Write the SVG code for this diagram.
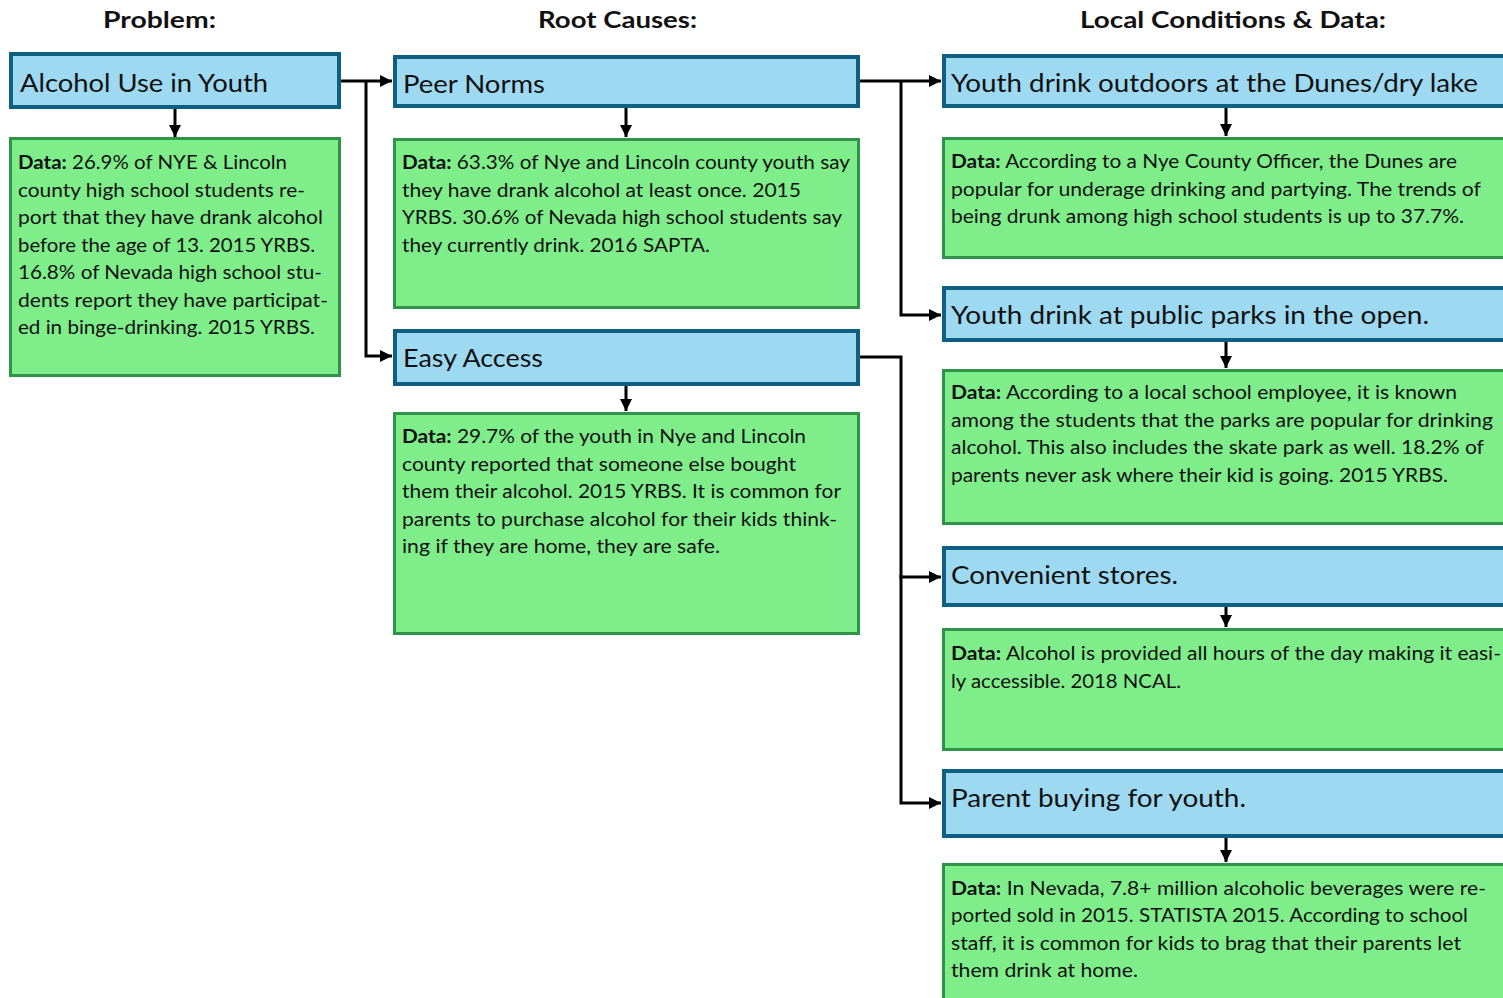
<svg xmlns="http://www.w3.org/2000/svg" width="1503" height="998" viewBox="0 0 1503 998">
<style>
.hdr{font-family:Lato,"Liberation Sans",sans-serif;font-weight:700;font-size:23px;fill:#111}
.ttl{font-family:Lato,"Liberation Sans",sans-serif;font-size:25.5px;fill:#111}
.dat{font-family:Lato,"Liberation Sans",sans-serif;font-size:18.5px;fill:#111}
.dat tspan.b{font-weight:700}
.tbox{fill:#9DD9F1;stroke:#0F6080;stroke-width:4}
.dbox{fill:#7FEE8A;stroke:#309448;stroke-width:3}
.con{fill:none;stroke:#000;stroke-width:3;stroke-linejoin:miter}
</style>
<defs>
<marker id="ah" markerUnits="userSpaceOnUse" markerWidth="12" markerHeight="12" viewBox="0 0 12 12" refX="12" refY="6" orient="auto">
<path d="M0,0 L12,6 L0,12 z" fill="#000"/>
</marker>
</defs>
<rect width="1503" height="998" fill="#fff"/>

<g id="headers">
<text class="hdr" x="103" y="28" textLength="113" lengthAdjust="spacingAndGlyphs">Problem:</text>
<text class="hdr" x="538" y="28" textLength="159" lengthAdjust="spacingAndGlyphs">Root Causes:</text>
<text class="hdr" x="1080" y="28" textLength="306" lengthAdjust="spacingAndGlyphs">Local Conditions &amp; Data:</text>
</g>

<g id="connectors">
<line class="con" x1="175" y1="109" x2="175" y2="137" marker-end="url(#ah)"/>
<line class="con" x1="626" y1="108" x2="626" y2="137" marker-end="url(#ah)"/>
<line class="con" x1="626" y1="386" x2="626" y2="411" marker-end="url(#ah)"/>
<line class="con" x1="1226" y1="108" x2="1226" y2="136" marker-end="url(#ah)"/>
<line class="con" x1="1226" y1="342" x2="1226" y2="368" marker-end="url(#ah)"/>
<line class="con" x1="1226" y1="607" x2="1226" y2="627" marker-end="url(#ah)"/>
<line class="con" x1="1226" y1="838" x2="1226" y2="862" marker-end="url(#ah)"/>
<path class="con" d="M341,81 H392" marker-end="url(#ah)"/>
<path class="con" d="M366,81 V356 H392" marker-end="url(#ah)"/>
<path class="con" d="M860,81 H941" marker-end="url(#ah)"/>
<path class="con" d="M901,81 V315 H941" marker-end="url(#ah)"/>
<path class="con" d="M860,357 H901 V577 H941" marker-end="url(#ah)"/>
<path class="con" d="M901,575 V803 H941" marker-end="url(#ah)"/>
</g>

<g id="n-alcohol">
<rect class="tbox" x="11" y="54" width="328" height="53"/>
<text class="ttl" x="20" y="92" textLength="248" lengthAdjust="spacingAndGlyphs">Alcohol Use in Youth</text>
</g>
<g id="n-alcohol-data">
<rect class="dbox" x="10.5" y="138.5" width="329" height="237"/>
<text class="dat" x="18" y="169" textLength="269" lengthAdjust="spacingAndGlyphs"><tspan class="b">Data:</tspan> 26.9% of NYE &amp; Lincoln</text>
<text class="dat" x="18" y="196.5" textLength="287" lengthAdjust="spacingAndGlyphs">county high school students re-</text>
<text class="dat" x="18" y="224" textLength="305" lengthAdjust="spacingAndGlyphs">port that they have drank alcohol</text>
<text class="dat" x="18" y="251.5" textLength="297" lengthAdjust="spacingAndGlyphs">before the age of 13. 2015 YRBS.</text>
<text class="dat" x="18" y="279" textLength="304" lengthAdjust="spacingAndGlyphs">16.8% of Nevada high school stu-</text>
<text class="dat" x="18" y="306.5" textLength="310" lengthAdjust="spacingAndGlyphs">dents report they have participat-</text>
<text class="dat" x="18" y="334" textLength="297" lengthAdjust="spacingAndGlyphs">ed in binge-drinking. 2015 YRBS.</text>
</g>

<g id="n-peer">
<rect class="tbox" x="395" y="57" width="463" height="49"/>
<text class="ttl" x="403" y="93" textLength="142" lengthAdjust="spacingAndGlyphs">Peer Norms</text>
</g>
<g id="n-peer-data">
<rect class="dbox" x="394.5" y="139.5" width="464" height="168"/>
<text class="dat" x="402" y="169" textLength="448" lengthAdjust="spacingAndGlyphs"><tspan class="b">Data:</tspan> 63.3% of Nye and Lincoln county youth say</text>
<text class="dat" x="402" y="196.5" textLength="399" lengthAdjust="spacingAndGlyphs">they have drank alcohol at least once. 2015</text>
<text class="dat" x="402" y="224" textLength="440" lengthAdjust="spacingAndGlyphs">YRBS. 30.6% of Nevada high school students say</text>
<text class="dat" x="402" y="251.5" textLength="308" lengthAdjust="spacingAndGlyphs">they currently drink. 2016 SAPTA.</text>
</g>

<g id="n-easy">
<rect class="tbox" x="395" y="331" width="463" height="53"/>
<text class="ttl" x="403" y="367" textLength="140" lengthAdjust="spacingAndGlyphs">Easy Access</text>
</g>
<g id="n-easy-data">
<rect class="dbox" x="394.5" y="413.5" width="464" height="220"/>
<text class="dat" x="402" y="443" textLength="404" lengthAdjust="spacingAndGlyphs"><tspan class="b">Data:</tspan> 29.7% of the youth in Nye and Lincoln</text>
<text class="dat" x="402" y="470.5" textLength="394" lengthAdjust="spacingAndGlyphs">county reported that someone else bought</text>
<text class="dat" x="402" y="498" textLength="439" lengthAdjust="spacingAndGlyphs">them their alcohol. 2015 YRBS. It is common for</text>
<text class="dat" x="402" y="525.5" textLength="435" lengthAdjust="spacingAndGlyphs">parents to purchase alcohol for their kids think-</text>
<text class="dat" x="402" y="553" textLength="318" lengthAdjust="spacingAndGlyphs">ing if they are home, they are safe.</text>
</g>

<g id="n-dunes">
<rect class="tbox" x="944" y="56" width="564" height="50"/>
<text class="ttl" x="951" y="92" textLength="527" lengthAdjust="spacingAndGlyphs">Youth drink outdoors at the Dunes/dry lake</text>
</g>
<g id="n-dunes-data">
<rect class="dbox" x="943.5" y="138.5" width="565" height="119"/>
<text class="dat" x="951" y="168" textLength="506" lengthAdjust="spacingAndGlyphs"><tspan class="b">Data:</tspan> According to a Nye County Officer, the Dunes are</text>
<text class="dat" x="951" y="195.5" textLength="530" lengthAdjust="spacingAndGlyphs">popular for underage drinking and partying. The trends of</text>
<text class="dat" x="951" y="223" textLength="513" lengthAdjust="spacingAndGlyphs">being drunk among high school students is up to 37.7%.</text>
</g>

<g id="n-parks">
<rect class="tbox" x="944" y="288" width="564" height="52"/>
<text class="ttl" x="951" y="324" textLength="478" lengthAdjust="spacingAndGlyphs">Youth drink at public parks in the open.</text>
</g>
<g id="n-parks-data">
<rect class="dbox" x="943.5" y="370.5" width="565" height="153"/>
<text class="dat" x="951" y="399" textLength="506" lengthAdjust="spacingAndGlyphs"><tspan class="b">Data:</tspan> According to a local school employee, it is known</text>
<text class="dat" x="951" y="426.5" textLength="542" lengthAdjust="spacingAndGlyphs">among the students that the parks are popular for drinking</text>
<text class="dat" x="951" y="454" textLength="533" lengthAdjust="spacingAndGlyphs">alcohol. This also includes the skate park as well. 18.2% of</text>
<text class="dat" x="951" y="481.5" textLength="497" lengthAdjust="spacingAndGlyphs">parents never ask where their kid is going. 2015 YRBS.</text>
</g>

<g id="n-stores">
<rect class="tbox" x="944" y="548" width="564" height="57"/>
<text class="ttl" x="951" y="584" textLength="227" lengthAdjust="spacingAndGlyphs">Convenient stores.</text>
</g>
<g id="n-stores-data">
<rect class="dbox" x="943.5" y="629.5" width="565" height="120"/>
<text class="dat" x="951" y="660" textLength="550" lengthAdjust="spacingAndGlyphs"><tspan class="b">Data:</tspan> Alcohol is provided all hours of the day making it easi-</text>
<text class="dat" x="951" y="687.5" textLength="230" lengthAdjust="spacingAndGlyphs">ly accessible. 2018 NCAL.</text>
</g>

<g id="n-parent">
<rect class="tbox" x="944" y="771" width="564" height="65"/>
<text class="ttl" x="951" y="807" textLength="295" lengthAdjust="spacingAndGlyphs">Parent buying for youth.</text>
</g>
<g id="n-parent-data">
<rect class="dbox" x="943.5" y="864.5" width="565" height="140"/>
<text class="dat" x="951" y="894.5" textLength="535" lengthAdjust="spacingAndGlyphs"><tspan class="b">Data:</tspan> In Nevada, 7.8+ million alcoholic beverages were re-</text>
<text class="dat" x="951" y="922" textLength="517" lengthAdjust="spacingAndGlyphs">ported sold in 2015. STATISTA 2015. According to school</text>
<text class="dat" x="951" y="949.5" textLength="510" lengthAdjust="spacingAndGlyphs">staff, it is common for kids to brag that their parents let</text>
<text class="dat" x="951" y="977" textLength="187" lengthAdjust="spacingAndGlyphs">them drink at home.</text>
</g>
</svg>
